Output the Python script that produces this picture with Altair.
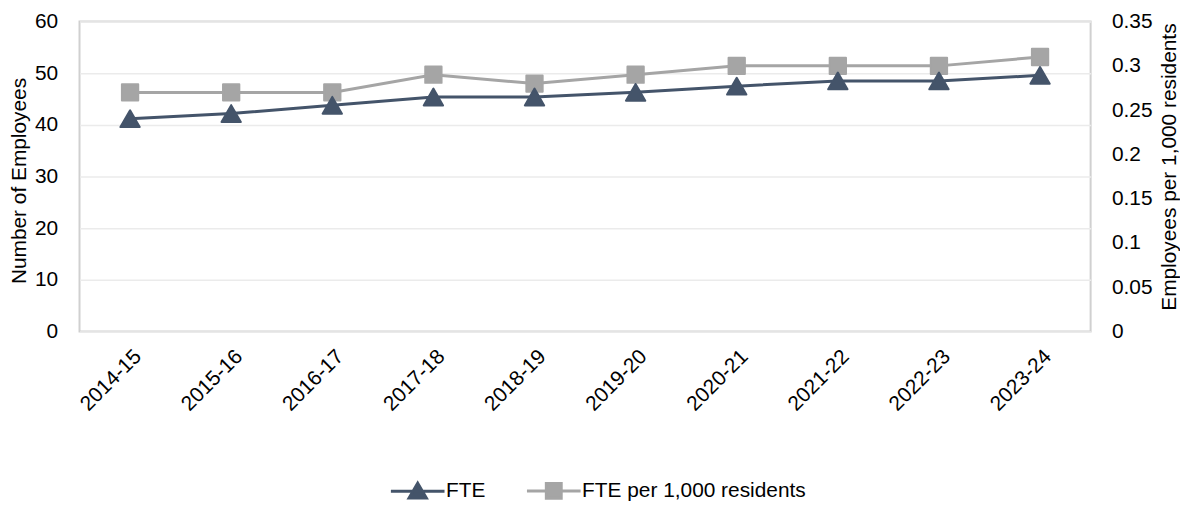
import altair as alt
import pandas as pd

years = ["2014-15", "2015-16", "2016-17", "2017-18", "2018-19",
         "2019-20", "2020-21", "2021-22", "2022-23", "2023-24"]
fte = [41.2, 42.2, 43.8, 45.4, 45.4, 46.3, 47.5, 48.5, 48.5, 49.6]
fte_per_1000 = [0.27, 0.27, 0.27, 0.29, 0.28, 0.29, 0.30, 0.30, 0.30, 0.31]
series_names = ["FTE", "FTE per 1,000 residents"]
series_colors = ["#44546A", "#A5A5A5"]
legend_shapes = ["M-4.5,0H4.5M0,-1.35L1.45,1.15L-1.45,1.15Z",
                 "M-4.5,0H4.5M-1.25,-1.25H1.25V1.25H-1.25Z"]

FONT = "Liberation Sans, Arial, sans-serif"
FS = 21

df_fte = pd.DataFrame({"year": years, "value": fte, "series": series_names[0]})
df_per = pd.DataFrame({"year": years, "value": fte_per_1000, "series": series_names[1]})
df_all = pd.concat([df_fte, df_per], ignore_index=True)

x_enc = alt.X("year:N", sort=years, scale=alt.Scale(type="point", padding=0.5),
              axis=alt.Axis(title=None, labelAngle=-45, labelPadding=14, ticks=False,
                            tickSize=0, domain=False, grid=False))

y_left = alt.Y("value:Q", scale=alt.Scale(domain=[0, 60]),
               axis=alt.Axis(title="Number of Employees", orient="left", values=[0, 10, 20, 30, 40, 50, 60],
                             labelPadding=22, titlePadding=5, titleY=160, ticks=False, tickSize=0,
                             domain=False, grid=True, gridColor="#EBEBEB", gridWidth=1.5))
y_right = alt.Y("value:Q", scale=alt.Scale(domain=[0, 0.35]),
                axis=alt.Axis(title="Employees per 1,000 residents", orient="right",
                              values=[0, 0.05, 0.1, 0.15, 0.2, 0.25, 0.3, 0.35], format="~g",
                              labelPadding=21, titlePadding=7, titleAngle=270, titleBaseline="top",
                              titleY=146, ticks=False, tickSize=0, domain=False, grid=False))

per_line = alt.Chart(df_per).mark_line(color="#A5A5A5", strokeWidth=3).encode(x=x_enc, y=y_right)
per_pts = alt.Chart(df_per).mark_point(shape="square", filled=True, size=270, opacity=1,
                                       color="#A5A5A5", stroke="#A5A5A5",
                                       strokeWidth=2, strokeJoin="round").encode(x=x_enc, y=y_right)
per_layer = alt.layer(per_line, per_pts)

fte_line = alt.Chart(df_fte).mark_line(color="#44546A", strokeWidth=3).encode(x=x_enc, y=y_left)
fte_pts = alt.Chart(df_fte).mark_point(shape="triangle-up", filled=True, size=380, opacity=1,
                                       color="#44546A", stroke="#44546A",
                                       strokeWidth=2, strokeJoin="round").encode(x=x_enc, y=y_left)
fte_layer = alt.layer(fte_line, fte_pts)

legend = alt.Legend(
    title=None, orient="none", direction="horizontal", legendX=330, legendY=462,
    symbolSize=144, labelOffset=18, columnPadding=35, symbolStrokeWidth=3,
    labelFontSize=FS, labelFont=FONT, labelColor="#000000", labelLimit=400,
)
legend_layer = alt.Chart(df_all).transform_filter("false").mark_point(
    filled=True, opacity=1, strokeJoin="round").encode(
    fill=alt.Fill("series:N", scale=alt.Scale(domain=series_names, range=series_colors), legend=legend),
    stroke=alt.Stroke("series:N", scale=alt.Scale(domain=series_names, range=series_colors), legend=legend),
    shape=alt.Shape("series:N", scale=alt.Scale(domain=series_names, range=legend_shapes), legend=legend),
)

chart = alt.layer(per_layer, fte_layer, legend_layer).resolve_scale(y="independent").properties(
    width=1018, height=312,
    autosize=alt.AutoSizeParams(type="none"),
    padding={"left": 72, "top": 12, "right": 90, "bottom": 170},
    background="#FFFFFF",
).configure_view(stroke="#D0D0D0", strokeWidth=2).configure_axis(
    labelFont=FONT, titleFont=FONT, labelFontSize=FS, titleFontSize=FS,
    labelColor="#000000", titleColor="#000000", titleFontWeight="normal",
).configure_legend(labelFont=FONT)

chart.save("out.html", embed_options={"renderer": "svg", "actions": False})
